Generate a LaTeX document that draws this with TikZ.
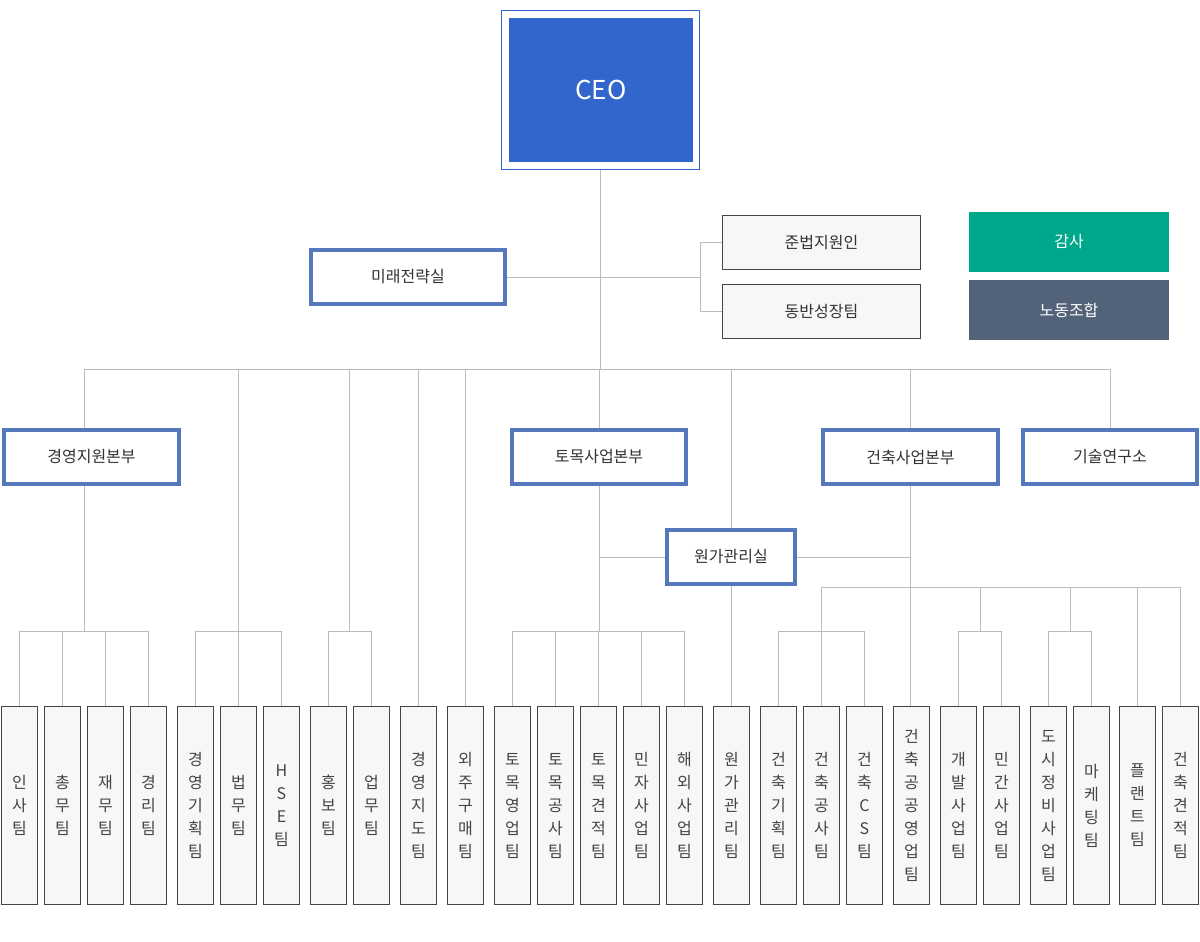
\documentclass[tikz,border=0pt]{standalone}
\usepackage{fontspec}
\setmainfont{Noto Sans CJK KR}
\usetikzlibrary{backgrounds}
\definecolor{ceoblue}{HTML}{3366CC}
\definecolor{frameblue}{HTML}{5577BB}
\definecolor{audgreen}{HTML}{00A88B}
\definecolor{unionslate}{HTML}{526379}
\definecolor{linegray}{HTML}{BBBBBB}
\definecolor{boxborder}{HTML}{444444}
\definecolor{boxfill}{HTML}{F7F7F7}
\definecolor{txtdark}{HTML}{333333}
\definecolor{txtteam}{HTML}{444444}
\tikzset{
  conn/.style={draw=linegray, line width=1pt},
  hq/.style={draw=frameblue, line width=4pt, fill=white, inner sep=0pt,
    text=txtdark, font=\fontsize{16}{19}\selectfont},
  graybox/.style={draw=boxborder, line width=1.1pt, fill=boxfill, inner sep=0pt,
    text=txtdark, font=\fontsize{16}{19}\selectfont, minimum width=198, minimum height=54},
  colbox/.style={inner sep=0pt, text=white, font=\fontsize{16}{19}\selectfont,
    minimum width=200, minimum height=60},
  team/.style={draw=boxborder, line width=1.1pt, fill=boxfill, inner sep=0pt,
    minimum width=36, minimum height=198, align=center, text=txtteam,
    font=\fontsize{16}{23}\selectfont}
}
\newcommand\teambox[3]{\node[team] (#1) at (#2,805.5) {#3};}
\begin{document}
\begin{tikzpicture}[x=1pt,y=-1pt]
\useasboundingbox (0,0) rectangle (1200,942);
% CEO
\node[draw=ceoblue, line width=1pt, minimum width=198, minimum height=159, inner sep=0pt] (ceo) at (600.5,90) {};
\node[fill=ceoblue, minimum width=184, minimum height=144, inner sep=0pt, text=white,
  font=\fontsize{26}{30}\selectfont] (ceoin) at (601,90) {CEO};
% staff
\node[hq, minimum width=194, minimum height=54] (mirae) at (408,277) {미래전략실};
\node[graybox] (jun) at (821.5,242.5) {준법지원인};
\node[graybox] (dong) at (821.5,311.5) {동반성장팀};
\node[colbox, fill=audgreen] (gamsa) at (1069,242) {감사};
\node[colbox, fill=unionslate] (nodong) at (1069,310) {노동조합};
% divisions
\node[hq, minimum width=175, minimum height=54] (gy) at (91.5,457) {경영지원본부};
\node[hq, minimum width=174, minimum height=54] (tomok) at (599,457) {토목사업본부};
\node[hq, minimum width=175, minimum height=54] (geon) at (910.5,457) {건축사업본부};
\node[hq, minimum width=174, minimum height=54] (gisul) at (1110,457) {기술연구소};
\node[hq, minimum width=128, minimum height=54] (wonga) at (731,557) {원가관리실};
% teams
\teambox{t1}{19.5}{인\\사\\팀}
\teambox{t2}{62.5}{총\\무\\팀}
\teambox{t3}{105.5}{재\\무\\팀}
\teambox{t4}{148.5}{경\\리\\팀}
\teambox{t5}{195.5}{경\\영\\기\\획\\팀}
\teambox{t6}{238.5}{법\\무\\팀}
\teambox{t7}{281.5}{H\\S\\E\\팀}
\teambox{t8}{328.5}{홍\\보\\팀}
\teambox{t9}{371.5}{업\\무\\팀}
\teambox{t10}{418.5}{경\\영\\지\\도\\팀}
\teambox{t11}{465.5}{외\\주\\구\\매\\팀}
\teambox{t12}{512.5}{토\\목\\영\\업\\팀}
\teambox{t13}{555.5}{토\\목\\공\\사\\팀}
\teambox{t14}{598.5}{토\\목\\견\\적\\팀}
\teambox{t15}{641.5}{민\\자\\사\\업\\팀}
\teambox{t16}{684.5}{해\\외\\사\\업\\팀}
\teambox{t17}{731.5}{원\\가\\관\\리\\팀}
\teambox{t18}{778.5}{건\\축\\기\\획\\팀}
\teambox{t19}{821.5}{건\\축\\공\\사\\팀}
\teambox{t20}{864.5}{건\\축\\C\\S\\팀}
\teambox{t21}{911.5}{건\\축\\공\\공\\영\\업\\팀}
\teambox{t22}{958.5}{개\\발\\사\\업\\팀}
\teambox{t23}{1001.5}{민\\간\\사\\업\\팀}
\teambox{t24}{1048.5}{도\\시\\정\\비\\사\\업\\팀}
\teambox{t25}{1091.5}{마\\케\\팅\\팀}
\teambox{t26}{1137.5}{플\\랜\\트\\팀}
\teambox{t27}{1180.5}{건\\축\\견\\적\\팀}
% junction coordinates
\coordinate (bus) at (0,369);
\coordinate (br) at (0,631);
\coordinate (br2) at (0,587);
\coordinate (xgy) at (84.3,0);
\coordinate (xhong) at (349.5,0);
\coordinate (xdev) at (980,0);
\coordinate (xcity) at (1070,0);
\coordinate (jm) at (700,0);
\begin{pgfonlayer}{background}
% CEO trunk and bus
\draw[conn] (ceo.south) -- (ceo.south |- bus);
\draw[conn] (xgy |- bus) -- (gisul.north |- bus);
% staff
\draw[conn] (mirae.east) -- (mirae.east -| jm);
\draw[conn] (jm |- jun.west) -- (jm |- dong.west);
\draw[conn] (jm |- jun.west) -- (jun.west);
\draw[conn] (jm |- dong.west) -- (dong.west);
% 경영지원본부
\draw[conn] (xgy |- bus) -- (xgy |- gy.north);
\draw[conn] (xgy |- gy.south) -- (xgy |- br);
\draw[conn] (t1.north |- br) -- (t4.north |- br);
\foreach \t in {t1,t2,t3,t4} \draw[conn] (\t.north |- br) -- (\t.north);
% 법무 group
\draw[conn] (t6.north |- bus) -- (t6.north);
\draw[conn] (t5.north |- br) -- (t7.north |- br);
\foreach \t in {t5,t7} \draw[conn] (\t.north |- br) -- (\t.north);
% 홍보 group
\draw[conn] (xhong |- bus) -- (xhong |- br);
\draw[conn] (t8.north |- br) -- (t9.north |- br);
\foreach \t in {t8,t9} \draw[conn] (\t.north |- br) -- (\t.north);
% direct teams
\draw[conn] (t10.north |- bus) -- (t10.north);
\draw[conn] (t11.north |- bus) -- (t11.north);
% 토목사업본부
\draw[conn] (tomok.north |- bus) -- (tomok.north);
\draw[conn] (tomok.south) -- (tomok.south |- br);
\draw[conn] (t12.north |- br) -- (t16.north |- br);
\foreach \t in {t12,t13,t14,t15,t16} \draw[conn] (\t.north |- br) -- (\t.north);
% 원가관리실
\draw[conn] (tomok.south |- wonga.west) -- (wonga.west);
\draw[conn] (wonga.east) -- (geon.south |- wonga.east);
\draw[conn] (wonga.north |- bus) -- (wonga.north);
\draw[conn] (wonga.south) -- (wonga.south |- t17.north);
% 건축사업본부
\draw[conn] (geon.north |- bus) -- (geon.north);
\draw[conn] (geon.south) -- (geon.south |- t21.north);
\draw[conn] (t19.north |- br2) -- (t27.north |- br2);
\draw[conn] (t19.north |- br2) -- (t19.north);
\draw[conn] (t18.north |- br) -- (t20.north |- br);
\foreach \t in {t18,t20} \draw[conn] (\t.north |- br) -- (\t.north);
\draw[conn] (xdev |- br2) -- (xdev |- br);
\draw[conn] (t22.north |- br) -- (t23.north |- br);
\foreach \t in {t22,t23} \draw[conn] (\t.north |- br) -- (\t.north);
\draw[conn] (xcity |- br2) -- (xcity |- br);
\draw[conn] (t24.north |- br) -- (t25.north |- br);
\foreach \t in {t24,t25} \draw[conn] (\t.north |- br) -- (\t.north);
\draw[conn] (t26.north |- br2) -- (t26.north);
\draw[conn] (t27.north |- br2) -- (t27.north);
% 기술연구소
\draw[conn] (gisul.north |- bus) -- (gisul.north);
\end{pgfonlayer}
\end{tikzpicture}
\end{document}
